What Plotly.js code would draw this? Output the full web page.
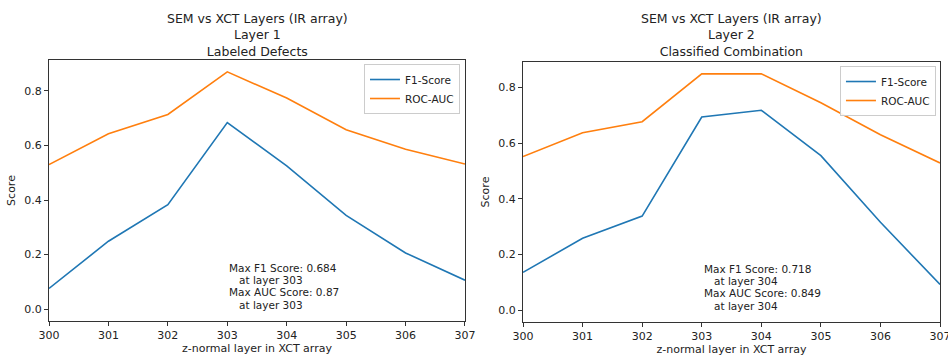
<!DOCTYPE html>
<html>
<head>
<meta charset="utf-8">
<script src="https://cdn.plot.ly/plotly-3.0.1.min.js"></script>
<style>html,body{margin:0;padding:0;background:#fff;}#chart{width:948px;height:358px;}</style>
</head>
<body>
<div id="chart"></div>
<script>
const layers = [300, 301, 302, 303, 304, 305, 306, 307];
const f1Layer1 = [0.076, 0.249, 0.383, 0.684, 0.525, 0.344, 0.206, 0.106];
const aucLayer1 = [0.530, 0.643, 0.714, 0.870, 0.774, 0.658, 0.586, 0.532];
const f1Layer2 = [0.136, 0.258, 0.338, 0.694, 0.718, 0.555, 0.316, 0.092];
const aucLayer2 = [0.552, 0.637, 0.677, 0.849, 0.849, 0.745, 0.630, 0.529];
const titles = [
  "SEM vs XCT Layers (IR array)<br>Layer 1<br>Labeled Defects",
  "SEM vs XCT Layers (IR array)<br>Layer 2<br>Classified Combination"
];
const notes1 = ["Max F1 Score: 0.684", "\u00a0\u00a0\u00a0at layer 303", "Max AUC Score: 0.87", "\u00a0\u00a0\u00a0at layer 303"];
const notes2 = ["Max F1 Score: 0.718", "\u00a0\u00a0\u00a0at layer 304", "Max AUC Score: 0.849", "\u00a0\u00a0\u00a0at layer 304"];
const yTicks = [0.0, 0.2, 0.4, 0.6, 0.8];
const blue = "#1f77b4", orange = "#ff7f0e";
const FONT = "DejaVu Sans, sans-serif";
const TXT = "#222";

const traces = [
  {x: layers, y: f1Layer1, name: "F1-Score", mode: "lines", line: {color: blue, width: 1.6}, xaxis: "x", yaxis: "y", legend: "legend"},
  {x: layers, y: aucLayer1, name: "ROC-AUC", mode: "lines", line: {color: orange, width: 1.6}, xaxis: "x", yaxis: "y", legend: "legend"},
  {x: layers, y: f1Layer2, name: "F1-Score", mode: "lines", line: {color: blue, width: 1.6}, xaxis: "x2", yaxis: "y2", legend: "legend2"},
  {x: layers, y: aucLayer2, name: "ROC-AUC", mode: "lines", line: {color: orange, width: 1.6}, xaxis: "x2", yaxis: "y2", legend: "legend2"}
];

function xa(domain, anchor) {
  return {domain: domain, anchor: anchor, range: [300, 307], tickvals: layers, ticktext: layers.map(String),
    showline: true, mirror: true, linecolor: "#333", linewidth: 1, ticks: "outside", ticklen: 4, tickcolor: "#333",
    showgrid: false, zeroline: false, ticklabeloverflow: "allow", tickfont: {family: FONT, size: 11, color: TXT},
    title: {text: "z-normal layer in XCT array", font: {family: FONT, size: 11, color: TXT}, standoff: 3}};
}
function ya(domain, anchor, maxv) {
  return {domain: domain, anchor: anchor, range: [-0.05 * maxv, 1.05 * maxv], tickvals: yTicks, ticktext: yTicks.map(v => v.toFixed(1)),
    showline: true, mirror: true, linecolor: "#333", linewidth: 1, ticks: "outside", ticklen: 4, tickcolor: "#333",
    showgrid: false, zeroline: false, tickfont: {family: FONT, size: 11, color: TXT},
    title: {text: "Score", font: {family: FONT, size: 11, color: TXT}, standoff: 6}};
}
const max1 = Math.max(...f1Layer1, ...aucLayer1);
const max2 = Math.max(...f1Layer2, ...aucLayer2);

const legendStyle = (x, y) => ({x: x, y: y, xanchor: "right", yanchor: "top", xref: "paper", yref: "paper",
  bgcolor: "rgba(255,255,255,0.9)", bordercolor: "#ccc", borderwidth: 1,
  font: {family: FONT, size: 10.5, color: TXT}, tracegroupgap: 0, itemwidth: 30});

const annotations = [
  {text: titles[0], xref: "paper", yref: "paper", x: 0.2711, y: 0.975, xanchor: "center", yanchor: "top", showarrow: false, font: {family: FONT, size: 12.5, color: TXT}},
  {text: titles[1], xref: "paper", yref: "paper", x: 0.7716, y: 0.975, xanchor: "center", yanchor: "top", showarrow: false, font: {family: FONT, size: 12.5, color: TXT}}
];
const shifts = [41, 29, 17, 4.5];
[[notes1, "x", "y"], [notes2, "x2", "y2"]].forEach(([lines, xr, yr]) => {
  lines.forEach((t, i) => {
    annotations.push({text: t, xref: xr, yref: yr, x: 303, y: 0, xanchor: "left", yanchor: "middle", align: "left",
      yshift: shifts[i], showarrow: false, font: {family: FONT, size: 10.5, color: TXT}});
  });
});

const layout = {
  width: 948, height: 358,
  margin: {l: 0, r: 0, t: 0, b: 0},
  paper_bgcolor: "#fff", plot_bgcolor: "#fff",
  font: {family: FONT, color: TXT},
  xaxis: xa([0.0517, 0.4905], "y"),
  yaxis: ya([0.1034, 0.8324], "x", max1),
  xaxis2: xa([0.5517, 0.9916], "y2"),
  yaxis2: ya([0.1006, 0.8268], "x2", max2),
  legend: legendStyle(0.4852, 0.8212),
  legend2: legendStyle(0.9873, 0.8156),
  annotations: annotations
};
Plotly.newPlot("chart", traces, layout, {displayModeBar: false, staticPlot: true});
</script>
</body>
</html>
